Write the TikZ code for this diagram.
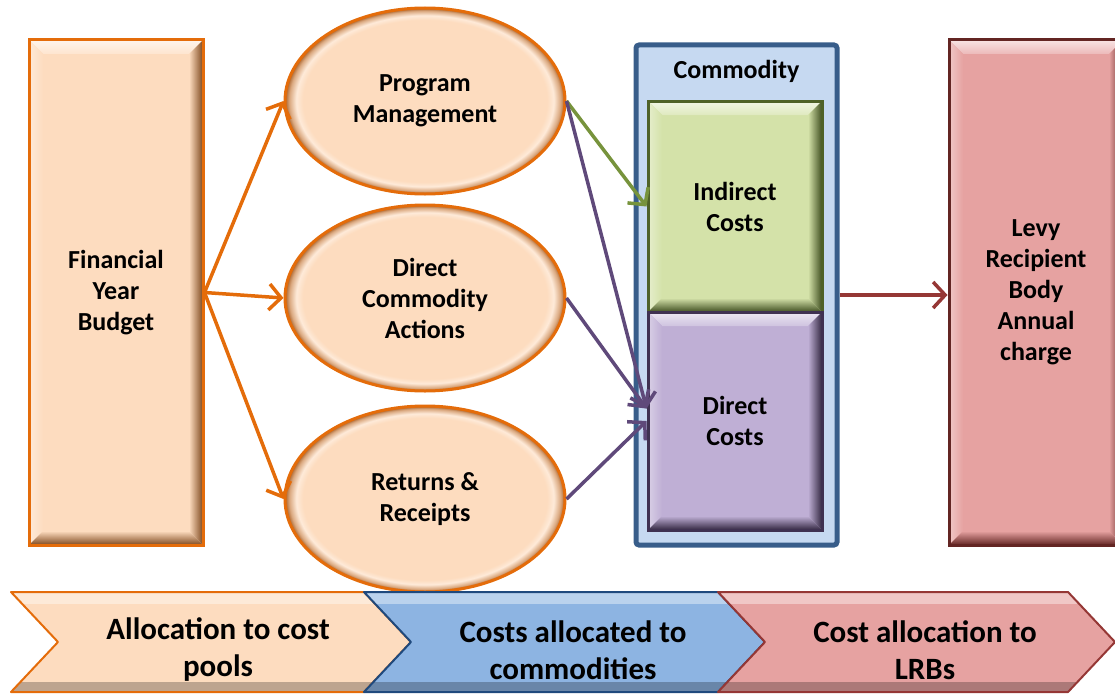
\documentclass[tikz,border=0pt]{standalone}
\usepackage{fontspec}
\setmainfont{Carlito}
\usetikzlibrary{positioning,arrows.meta,shapes.geometric}

\definecolor{peach}{HTML}{FDDCBF}
\definecolor{orangeline}{HTML}{E46C0A}
\definecolor{rimbrown}{HTML}{A85F26}
\definecolor{indgreen}{HTML}{D4E2A9}
\definecolor{indline}{HTML}{4F6228}
\definecolor{arrowgreen}{HTML}{77933C}
\definecolor{dirpurple}{HTML}{BFAFD5}
\definecolor{dirline}{HTML}{3F3151}
\definecolor{arrowpurple}{HTML}{5F497A}
\definecolor{commblue}{HTML}{C6D9F1}
\definecolor{commline}{HTML}{385D8A}
\definecolor{levypink}{HTML}{E6A2A1}
\definecolor{levyline}{HTML}{632523}
\definecolor{arrowred}{HTML}{953735}
\definecolor{stageblue}{HTML}{8DB4E2}
\definecolor{stageline}{HTML}{1F497D}

\newcommand\boxfont{\fontsize{26}{31}\selectfont\bfseries}
\newcommand\stagefont{\fontsize{31}{37}\selectfont\bfseries}

% peach egg with a brownish rim (path edge sits at 25bp)
\pgfdeclareradialshading{eggrim}{\pgfpoint{0bp}{0bp}}{%
  color(0bp)=(peach); color(21.8bp)=(peach); color(23bp)=(peach!60!white);
  color(24.2bp)=(peach!60!rimbrown); color(25bp)=(rimbrown); color(50bp)=(rimbrown)}

\tikzset{
  % #1 face colour, #2 dark edge colour
  bevel/.style 2 args={path picture={
    \coordinate (bv1) at (path picture bounding box.north west);
    \coordinate (bv2) at (path picture bounding box.north east);
    \coordinate (bv3) at (path picture bounding box.south east);
    \coordinate (bv4) at (path picture bounding box.south west);
    \coordinate (bw1) at ([shift={(14,14)}]bv1);
    \coordinate (bw2) at ([shift={(-14,14)}]bv2);
    \coordinate (bw3) at ([shift={(-14,-14)}]bv3);
    \coordinate (bw4) at ([shift={(14,-14)}]bv4);
    \shade[top color=white!70!#1, bottom color=white!25!#1] (bv1) -- (bv2) -- (bw2) -- (bw1) -- cycle;
    \shade[left color=white!40!#1, right color=#1] (bv1) -- (bw1) -- (bw4) -- (bv4) -- cycle;
    \shade[left color=#1, right color=#2] (bv2) -- (bv3) -- (bw3) -- (bw2) -- cycle;
    \shade[top color=#1, bottom color=#2] (bv3) -- (bv4) -- (bw4) -- (bw3) -- cycle;
  }},
  stagebevel/.style={path picture={
    \fill[white,opacity=.4] (path picture bounding box.north west) rectangle
      ([yshift=-12pt]path picture bounding box.north east);
    \fill[black,opacity=.25] (path picture bounding box.south west) rectangle
      ([yshift=10pt]path picture bounding box.south east);
  }},
  box/.style={draw, line width=3pt, align=center, inner sep=0pt, font=\boxfont},
  pool/.style={ellipse, draw=orangeline, line width=3pt, shade, shading=eggrim,
    minimum width=280pt, minimum height=186pt, inner sep=0pt, align=center, font=\boxfont},
  stage/.style={line width=2pt, line join=round, stagebevel},
  feed/.style={line width=3.5pt, -{Straight Barb[length=12pt,width=26pt]}},
}

\begin{document}
\begin{tikzpicture}[x=1pt,y=-1pt]
  \useasboundingbox (0,0) rectangle (1115,693);
  \clip (0,0) rectangle (1115,693);

  % budget and cost pools
  \node[box, draw=orangeline, fill=peach, bevel={peach}{rimbrown!75!black},
    minimum width=174pt, minimum height=505pt]
    (fyb) at (116,292.5) {Financial\\Year\\Budget};
  \node[pool] (e2) at (425,298) {Direct\\Commodity\\Actions};
  \node[pool] (e1) [above=8pt of e2] {Program\\Management};
  \node[pool] (e3) [below=12pt of e2] {Returns \&\\Receipts};

  % commodity
  \node[draw=commline, line width=5pt, fill=commblue, rounded corners=3pt,
    minimum width=201pt, minimum height=500pt] (comm) at (736.5,295) {};
  \node[font=\boxfont] (commlbl) at (736.5,71) {Commodity};
  \node[box, draw=indline, fill=indgreen, bevel={indgreen}{indline!80!black},
    minimum width=174pt, minimum height=211pt]
    (ind) at (735,206.5) {Indirect\\Costs};
  \node[box, draw=dirline, fill=dirpurple, bevel={dirpurple}{dirline!80!black},
    minimum width=174pt, minimum height=218pt]
    (dir) [below=-3pt of ind] {Direct\\Costs};

  % levy recipient body
  \node[box, draw=levyline, fill=levypink, bevel={levypink}{levyline},
    minimum width=174pt, minimum height=505pt]
    (levy) at (1036,292.5) {Levy\\Recipient\\Body\\Annual\\charge};

  \draw[feed, orangeline] (fyb.east) -- (e1.west);
  \draw[feed, orangeline] (fyb.east) -- (e2.west);
  \draw[feed, orangeline] (fyb.east) -- (e3.west);
  \draw[feed, arrowgreen] (e1.east) -- (ind.west);
  \draw[feed, arrowpurple] (e1.east) -- (dir.172);
  \draw[feed, arrowpurple] (e2.east) -- (dir.172);
  \draw[feed, arrowpurple] (e3.east) -- (dir.west);
  \draw[feed, arrowred] (comm.east) -- (comm.east -| levy.west);

  % stages along the bottom
  \path[stage, fill=peach, draw=orangeline]
    (11,592) -- (364,592) -- (411,642) -- (364,692) -- (11,692) -- (58,642) -- cycle;
  \path[stage, fill=stageblue, draw=stageline]
    (364,592) -- (718,592) -- (765,642) -- (718,692) -- (364,692) -- (411,642) -- cycle;
  \path[stage, fill=levypink, draw=arrowred]
    (718,592) -- (1068,592) -- (1115,642) -- (1068,692) -- (718,692) -- (765,642) -- cycle;
  \node[font=\stagefont, align=center] (st1) at (218,650) {Allocation to cost\\pools};
  \node[font=\stagefont, align=center] (st2) at (573,650) {Costs allocated to\\commodities};
  \node[font=\stagefont, align=center] (st3) at (925,650) {Cost allocation to\\LRBs};
\end{tikzpicture}
\end{document}
